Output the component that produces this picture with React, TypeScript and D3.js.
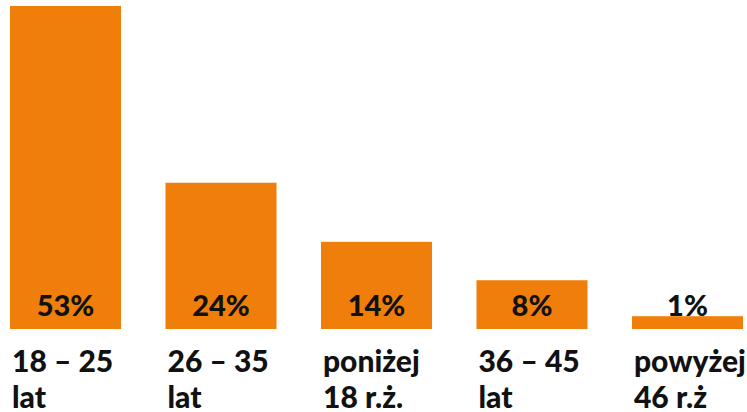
import React from "react";
import * as d3 from "d3";

const categories = ["18 – 25|lat", "26 – 35|lat", "poniżej|18 r.ż.", "36 – 45|lat", "powyżej|46 r.ż"];
const values = [53, 24, 14.3, 8, 2.1];
const valueLabels = ["53%", "24%", "14%", "8%", "1%"];

const W = 747;
const H = 412;
const baseline = 329;
const top = 6;

export default function App() {
  const x = d3
    .scaleBand<number>()
    .domain(d3.range(categories.length))
    .range([10, 743])
    .paddingInner(0.286)
    .paddingOuter(0);
  const y = d3.scaleLinear().domain([0, 53]).range([baseline, top]);
  const font = "Lato, 'Open Sans', sans-serif";
  return (
    <svg width={W} height={H} style={{ position: "absolute", left: 0, top: 0 }}>
      <rect width={W} height={H} fill="#ffffff" />
      {values.map((v, i) => (
        <g key={i}>
          <rect x={x(i)} y={y(v)} width={x.bandwidth()} height={baseline - y(v)} fill="#EF7F0A" />
          <text
            x={(x(i) as number) + x.bandwidth() / 2}
            y={baseline - 13}
            textAnchor="middle"
            fontFamily={font}
            fontWeight={900}
            fontSize={29}
            fill="#111"
          >
            {valueLabels[i]}
          </text>
          {categories[i].split("|").map((line, j) => (
            <text
              key={j}
              x={(x(i) as number) + 2}
              y={372 + j * 36}
              fontFamily={font}
              fontWeight={900}
              fontSize={30}
              fill="#111"
            >
              {line}
            </text>
          ))}
        </g>
      ))}
    </svg>
  );
}
